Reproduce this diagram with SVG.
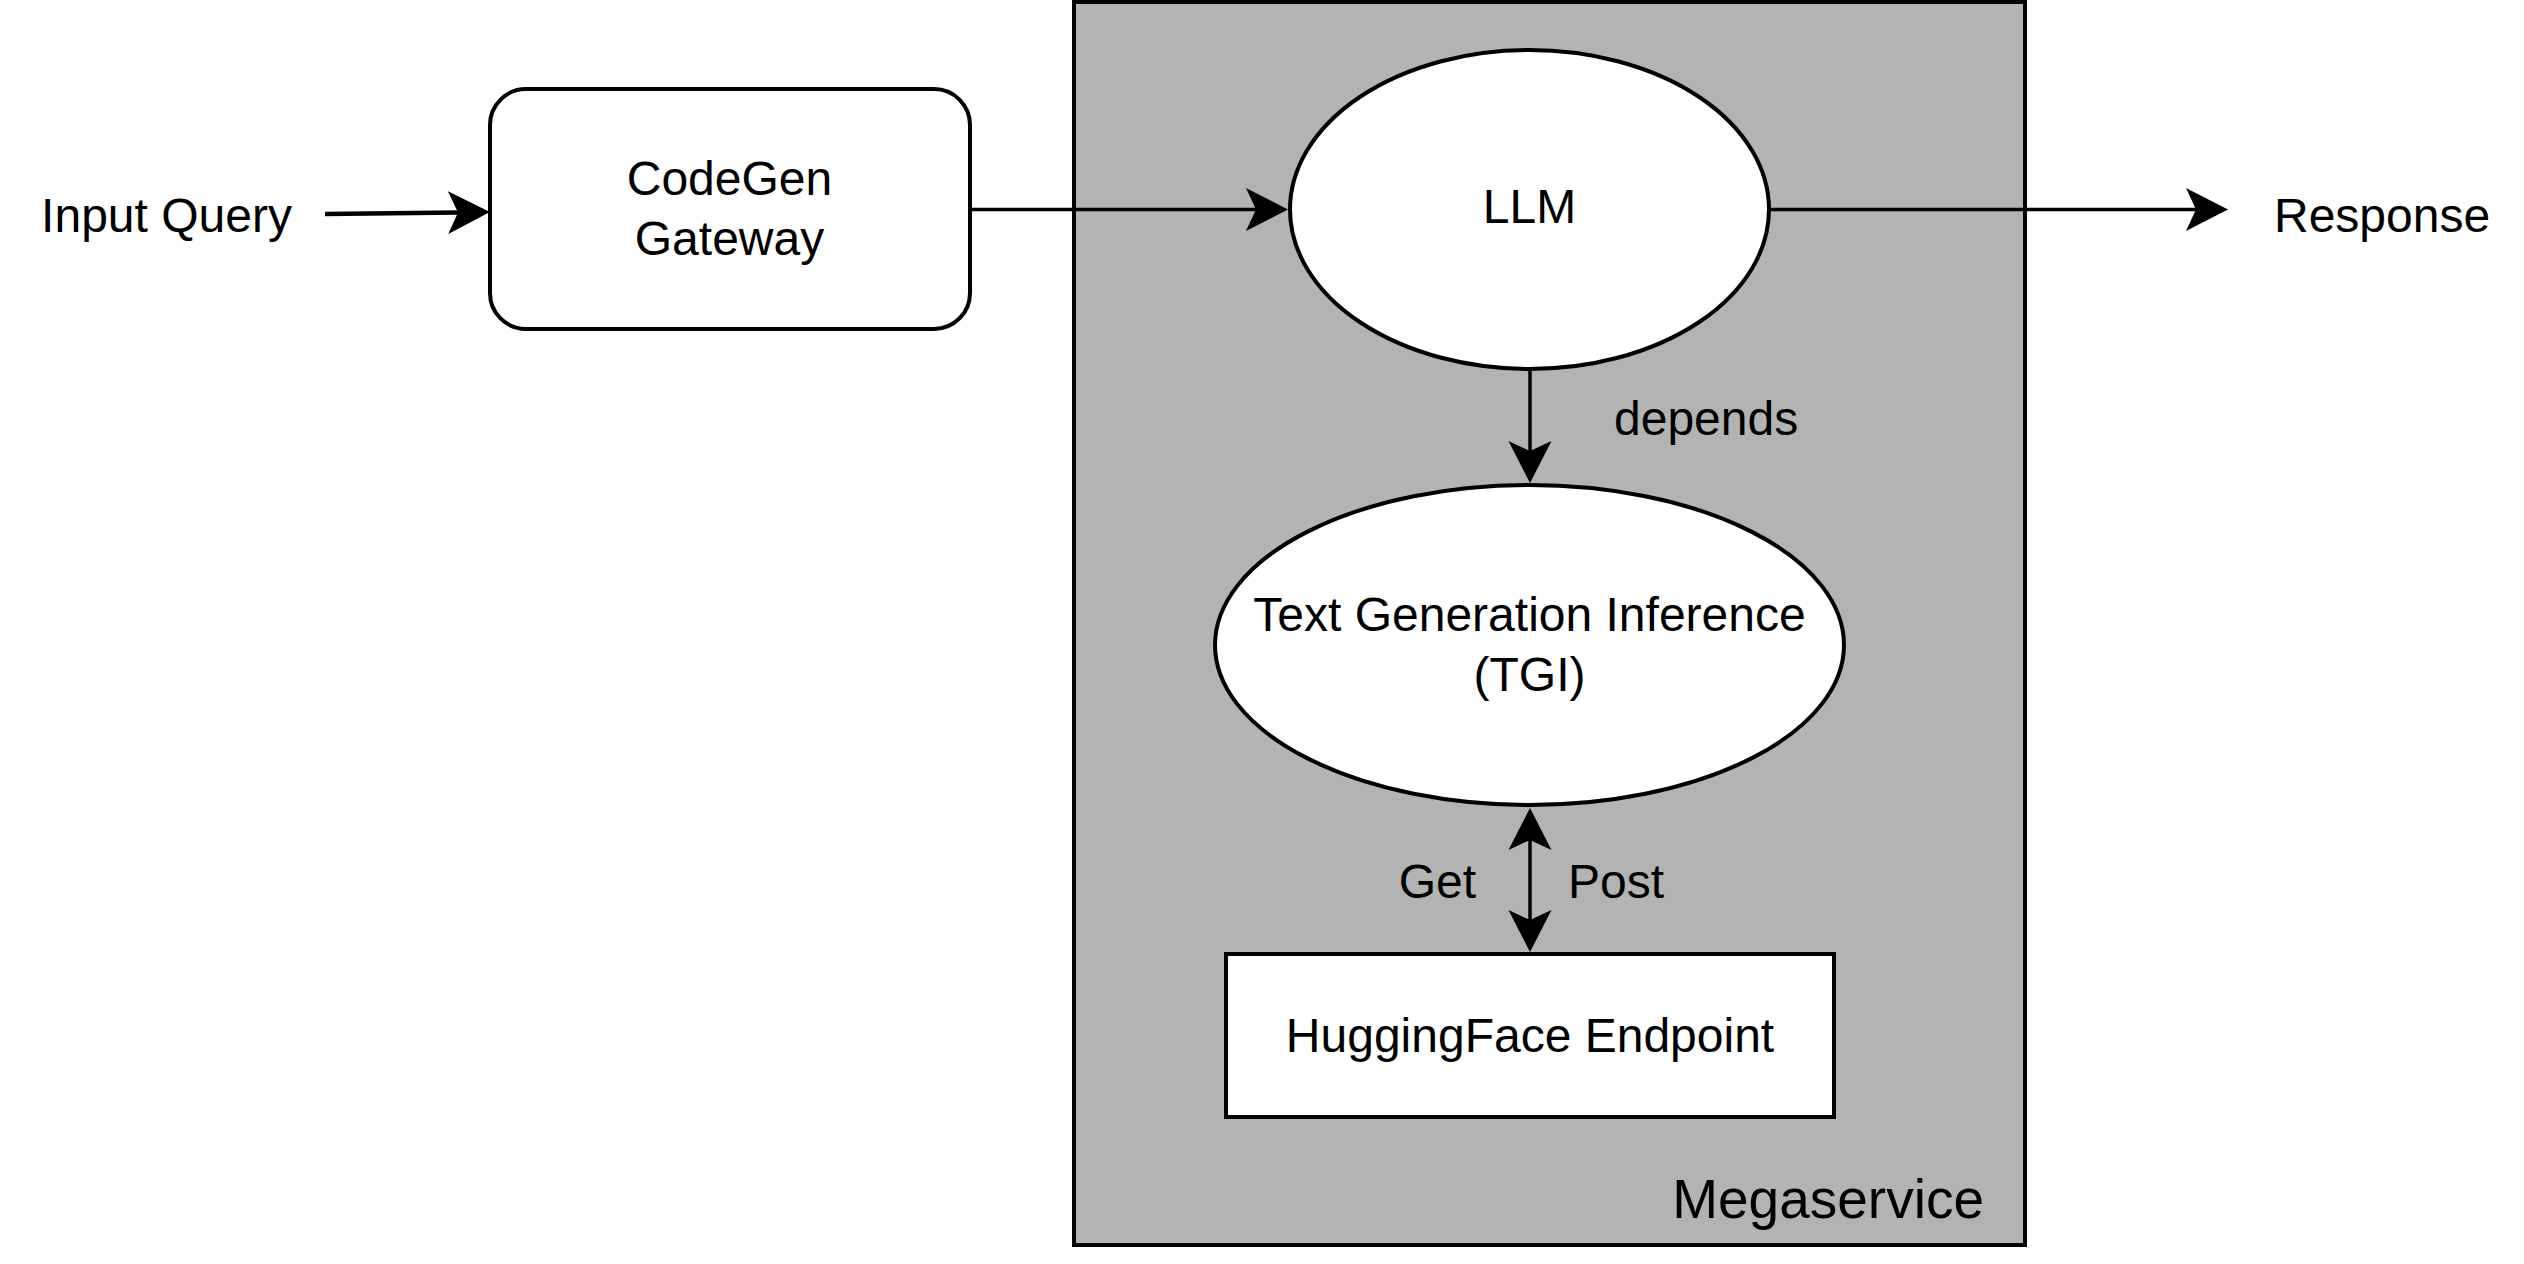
<svg xmlns="http://www.w3.org/2000/svg" width="2524" height="1264" viewBox="0 0 2524 1264">
<style>
text{font-family:"Liberation Sans",Arial,sans-serif;font-size:48px;fill:#000}
.shape{stroke:#000;stroke-width:4;fill:#fff}
.edge{stroke:#000;stroke-width:3.5;fill:none}
.mid{text-anchor:middle}
</style>
<defs>
<marker id="arr" markerUnits="userSpaceOnUse" viewBox="0 -22 43 44" markerWidth="43" markerHeight="44" refX="10" refY="0" orient="auto-start-reverse">
<path d="M0,-21.5 L42,0 L0,21.5 L10,0 Z" fill="#000"/>
</marker>
</defs>
<rect width="2524" height="1264" fill="#fff"/>
<g id="megaservice">
<rect x="1074" y="2" width="951" height="1243" fill="#b3b3b3" stroke="#000" stroke-width="4"/>
<text x="1984" y="1218" style="font-size:55px" text-anchor="end">Megaservice</text>
</g>
<g id="input-query">
<text x="166.5" y="232" class="mid">Input Query</text>
</g>
<g id="gateway">
<rect class="shape" x="490" y="89" width="480" height="240" rx="36" ry="36"/>
<text x="729.5" y="195" class="mid">CodeGen</text>
<text x="729.5" y="255" class="mid">Gateway</text>
</g>
<g id="llm">
<ellipse class="shape" cx="1529.5" cy="209.5" rx="239.5" ry="159.5"/>
<text x="1529.5" y="223" class="mid">LLM</text>
</g>
<g id="tgi">
<ellipse class="shape" cx="1529.5" cy="645" rx="314.5" ry="160"/>
<text x="1529.5" y="631" class="mid">Text Generation Inference</text>
<text x="1529.5" y="691" class="mid">(TGI)</text>
</g>
<g id="hf-endpoint">
<rect class="shape" x="1226" y="954" width="608" height="163"/>
<text x="1530" y="1052" class="mid">HuggingFace Endpoint</text>
</g>
<g id="response">
<text x="2274" y="232">Response</text>
</g>
<g id="connectors">
<line class="edge" style="stroke-width:4.5" x1="325" y1="214" x2="458" y2="212.4" marker-end="url(#arr)"/>
<line class="edge" x1="970" y1="209.5" x2="1256" y2="209.5" marker-end="url(#arr)"/>
<line class="edge" x1="1769" y1="209.5" x2="2196" y2="209.5" marker-end="url(#arr)"/>
<line class="edge" x1="1530" y1="369" x2="1530" y2="451" marker-end="url(#arr)"/>
<line class="edge" x1="1530" y1="840" x2="1530" y2="920" marker-start="url(#arr)" marker-end="url(#arr)"/>
<text x="1614" y="435">depends</text>
<text x="1476" y="898" text-anchor="end">Get</text>
<text x="1568" y="898">Post</text>
</g>
</svg>
